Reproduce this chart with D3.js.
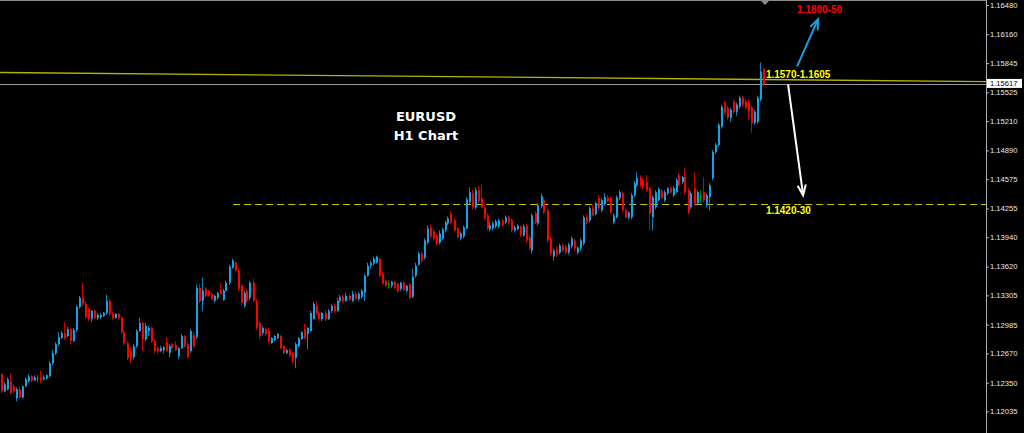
<!DOCTYPE html>
<html><head><meta charset="utf-8">
<script src="https://cdn.jsdelivr.net/npm/d3@7/dist/d3.min.js"></script>
<style>html,body{margin:0;padding:0;background:#000;overflow:hidden}</style>
</head><body><svg id="c" width="1024" height="433"></svg>
<script>
// ---- Data (EURUSD H1 candles) ----
const open = [1.12442,1.12255,1.12277,1.12365,1.12310,1.12178,1.12277,1.12189,1.12310,1.12365,1.12420,1.12376,1.12398,1.12409,1.12387,1.12398,1.12420,1.12563,1.12673,1.12772,1.12838,1.12893,1.12860,1.12937,1.12805,1.12926,1.13179,1.13278,1.13212,1.13157,1.13047,1.13135,1.13058,1.13069,1.13080,1.13113,1.13245,1.13102,1.13058,1.13102,1.13058,1.12904,1.12783,1.12695,1.12629,1.12750,1.12915,1.13003,1.12827,1.12915,1.12948,1.12805,1.12728,1.12695,1.12706,1.12794,1.12673,1.12772,1.12761,1.12640,1.12728,1.12860,1.12772,1.12695,1.12871,1.12849,1.13388,1.13245,1.13377,1.13355,1.13322,1.13245,1.13278,1.13366,1.13256,1.13355,1.13443,1.13608,1.13663,1.13575,1.13410,1.13190,1.13355,1.13278,1.13443,1.13245,1.13003,1.12893,1.12937,1.12915,1.12783,1.12816,1.12838,1.12860,1.12750,1.12673,1.12717,1.12673,1.12618,1.12750,1.12827,1.12937,1.12882,1.12915,1.13047,1.13190,1.13113,1.13047,1.13113,1.13047,1.13135,1.13190,1.13135,1.13245,1.13289,1.13245,1.13300,1.13245,1.13322,1.13267,1.13289,1.13333,1.13520,1.13630,1.13652,1.13663,1.13707,1.13542,1.13465,1.13432,1.13410,1.13454,1.13432,1.13377,1.13443,1.13355,1.13432,1.13289,1.13520,1.13641,1.13762,1.13718,1.13883,1.14048,1.14004,1.13960,1.13883,1.13927,1.14015,1.14092,1.14191,1.14125,1.14037,1.13927,1.13949,1.14037,1.14323,1.14422,1.14268,1.14455,1.14367,1.14268,1.14180,1.14026,1.14037,1.14059,1.14059,1.14125,1.14103,1.14158,1.14125,1.14015,1.14026,1.14059,1.13960,1.14070,1.13938,1.13795,1.14202,1.14092,1.14279,1.14345,1.14235,1.13927,1.13729,1.13806,1.13773,1.13850,1.13839,1.13773,1.13839,1.13905,1.13773,1.13817,1.13872,1.14158,1.14125,1.14257,1.14191,1.14367,1.14235,1.14301,1.14378,1.14367,1.14103,1.14158,1.14367,1.14422,1.14235,1.14158,1.14158,1.14400,1.14510,1.14587,1.14565,1.14543,1.14477,1.14158,1.14268,1.14345,1.14444,1.14345,1.14422,1.14477,1.14400,1.14433,1.14620,1.14543,1.14598,1.14455,1.14268,1.14477,1.14312,1.14389,1.14433,1.14290,1.14378,1.14587,1.14873,1.14950,1.15148,1.15412,1.15357,1.15247,1.15423,1.15313,1.15368,1.15467,1.15423,1.15412,1.15357,1.15192,1.15203,1.15445,1.15775];
const high = [1.12453,1.12354,1.12409,1.12453,1.12332,1.12299,1.12310,1.12321,1.12409,1.12442,1.12431,1.12431,1.12431,1.12486,1.12431,1.12442,1.12585,1.12706,1.12794,1.12904,1.12915,1.13014,1.12959,1.12948,1.12948,1.13201,1.13300,1.13443,1.13245,1.13168,1.13146,1.13146,1.13113,1.13113,1.13124,1.13311,1.13267,1.13124,1.13113,1.13113,1.13080,1.12926,1.12805,1.12728,1.12772,1.12937,1.13058,1.13025,1.13003,1.12970,1.12959,1.12827,1.12750,1.12750,1.12750,1.12849,1.12772,1.12783,1.12805,1.12739,1.12882,1.12871,1.12794,1.12937,1.12904,1.13421,1.13432,1.13498,1.13399,1.13366,1.13333,1.13311,1.13344,1.13443,1.13377,1.13465,1.13641,1.13707,1.13674,1.13597,1.13432,1.13355,1.13377,1.13465,1.13487,1.13267,1.13025,1.12970,1.12959,1.12948,1.12849,1.12871,1.12893,1.12871,1.12761,1.12717,1.12728,1.12684,1.12794,1.12849,1.12915,1.12992,1.12959,1.13135,1.13234,1.13245,1.13135,1.13124,1.13146,1.13157,1.13212,1.13223,1.13278,1.13311,1.13311,1.13333,1.13322,1.13355,1.13344,1.13344,1.13377,1.13542,1.13663,1.13685,1.13729,1.13740,1.13718,1.13564,1.13487,1.13465,1.13465,1.13465,1.13443,1.13454,1.13465,1.13421,1.13443,1.13597,1.13663,1.13784,1.13784,1.13927,1.14070,1.14081,1.14037,1.13982,1.14015,1.14048,1.14125,1.14169,1.14224,1.14147,1.14059,1.14004,1.14070,1.14378,1.14488,1.14455,1.14488,1.14499,1.14521,1.14290,1.14202,1.14103,1.14114,1.14136,1.14147,1.14136,1.14180,1.14180,1.14147,1.14070,1.14081,1.14070,1.14081,1.14092,1.13960,1.14202,1.14224,1.14312,1.14422,1.14367,1.14257,1.13949,1.13817,1.13839,1.13872,1.13872,1.13861,1.13883,1.13949,1.13927,1.13839,1.13927,1.14180,1.14191,1.14279,1.14290,1.14334,1.14400,1.14367,1.14422,1.14400,1.14389,1.14202,1.14400,1.14455,1.14444,1.14257,1.14224,1.14422,1.14554,1.14653,1.14620,1.14587,1.14620,1.14499,1.14400,1.14455,1.14488,1.14466,1.14455,1.14488,1.14499,1.14499,1.14587,1.14642,1.14609,1.14697,1.14477,1.14444,1.14653,1.14455,1.14455,1.14598,1.14422,1.14532,1.14895,1.14972,1.15192,1.15390,1.15434,1.15379,1.15357,1.15445,1.15412,1.15489,1.15489,1.15445,1.15445,1.15379,1.15335,1.15489,1.15852,1.15797];
const low = [1.12233,1.12244,1.12266,1.12222,1.12233,1.12145,1.12167,1.12178,1.12299,1.12354,1.12354,1.12365,1.12354,1.12343,1.12376,1.12387,1.12409,1.12541,1.12651,1.12750,1.12827,1.12816,1.12849,1.12772,1.12794,1.12904,1.13157,1.13190,1.13047,1.13025,1.13014,1.13047,1.13036,1.13047,1.13069,1.13091,1.13080,1.13036,1.13047,1.13036,1.12882,1.12761,1.12596,1.12563,1.12607,1.12728,1.12904,1.12695,1.12805,1.12860,1.12783,1.12673,1.12673,1.12684,1.12673,1.12684,1.12629,1.12717,1.12695,1.12607,1.12717,1.12728,1.12618,1.12673,1.12728,1.12827,1.13223,1.13135,1.13278,1.13289,1.13256,1.13223,1.13256,1.13311,1.13245,1.13344,1.13421,1.13597,1.13553,1.13355,1.13201,1.13168,1.13223,1.13256,1.13234,1.12926,1.12827,1.12871,1.12860,1.12783,1.12772,1.12805,1.12827,1.12717,1.12662,1.12662,1.12629,1.12563,1.12508,1.12739,1.12816,1.12827,1.12717,1.12904,1.13036,1.13091,1.13025,1.13025,1.13025,1.13036,1.13113,1.13113,1.13124,1.13223,1.13223,1.13234,1.13245,1.13234,1.13256,1.13245,1.13267,1.13245,1.13509,1.13597,1.13630,1.13652,1.13498,1.13421,1.13399,1.13377,1.13388,1.13377,1.13333,1.13355,1.13355,1.13333,1.13256,1.13278,1.13498,1.13630,1.13663,1.13696,1.13861,1.13927,1.13905,1.13850,1.13861,1.13905,1.13993,1.14070,1.14081,1.14004,1.13927,1.13905,1.13927,1.14026,1.14301,1.14246,1.14246,1.14312,1.14257,1.14125,1.14015,1.14004,1.14015,1.14037,1.14037,1.14059,1.14081,1.14081,1.13993,1.13993,1.14015,1.13938,1.13949,1.13883,1.13795,1.13762,1.14081,1.14070,1.14257,1.14191,1.13883,1.13729,1.13685,1.13729,1.13751,1.13784,1.13751,1.13751,1.13817,1.13795,1.13751,1.13795,1.13850,1.14081,1.14103,1.14169,1.14180,1.14235,1.14213,1.14279,1.14323,1.14191,1.14081,1.14147,1.14345,1.14213,1.14147,1.14136,1.14136,1.14378,1.14488,1.14488,1.14466,1.14433,1.14015,1.14015,1.14246,1.14334,1.14356,1.14323,1.14400,1.14422,1.14378,1.14422,1.14499,1.14521,1.14411,1.14191,1.14246,1.14290,1.14290,1.14312,1.14323,1.14268,1.14235,1.14565,1.14851,1.14928,1.15126,1.15280,1.15225,1.15203,1.15291,1.15269,1.15346,1.15368,1.15335,1.15225,1.15082,1.15170,1.15181,1.15423,1.15588];
const close = [1.12255,1.12332,1.12387,1.12233,1.12255,1.12277,1.12189,1.12310,1.12387,1.12420,1.12376,1.12409,1.12398,1.12376,1.12409,1.12431,1.12563,1.12673,1.12772,1.12849,1.12893,1.12838,1.12937,1.12805,1.12926,1.13179,1.13278,1.13212,1.13069,1.13047,1.13135,1.13058,1.13091,1.13091,1.13113,1.13245,1.13102,1.13058,1.13102,1.13058,1.12904,1.12783,1.12618,1.12607,1.12750,1.12915,1.13003,1.12827,1.12970,1.12948,1.12805,1.12695,1.12695,1.12728,1.12739,1.12695,1.12750,1.12728,1.12706,1.12728,1.12860,1.12750,1.12629,1.12915,1.12750,1.13388,1.13245,1.13355,1.13300,1.13300,1.13267,1.13300,1.13333,1.13322,1.13355,1.13443,1.13619,1.13685,1.13575,1.13377,1.13223,1.13333,1.13245,1.13443,1.13245,1.12948,1.12860,1.12948,1.12882,1.12805,1.12838,1.12860,1.12882,1.12728,1.12673,1.12706,1.12651,1.12585,1.12772,1.12838,1.12904,1.12838,1.12948,1.13113,1.13212,1.13113,1.13047,1.13113,1.13047,1.13135,1.13190,1.13135,1.13245,1.13289,1.13245,1.13300,1.13256,1.13322,1.13267,1.13322,1.13355,1.13520,1.13630,1.13663,1.13707,1.13729,1.13520,1.13432,1.13410,1.13432,1.13454,1.13388,1.13355,1.13443,1.13366,1.13410,1.13278,1.13509,1.13630,1.13762,1.13685,1.13905,1.14037,1.13949,1.13927,1.13872,1.13982,1.14026,1.14103,1.14147,1.14103,1.14015,1.13938,1.13982,1.14048,1.14356,1.14433,1.14268,1.14455,1.14334,1.14268,1.14147,1.14037,1.14070,1.14092,1.14114,1.14125,1.14070,1.14158,1.14103,1.14015,1.14048,1.14070,1.13971,1.14059,1.13905,1.13817,1.14180,1.14103,1.14290,1.14389,1.14213,1.13905,1.13762,1.13795,1.13751,1.13850,1.13795,1.13773,1.13861,1.13927,1.13817,1.13828,1.13905,1.14158,1.14103,1.14257,1.14180,1.14312,1.14257,1.14345,1.14378,1.14334,1.14213,1.14180,1.14378,1.14433,1.14235,1.14158,1.14213,1.14400,1.14532,1.14587,1.14510,1.14488,1.14455,1.14202,1.14378,1.14433,1.14466,1.14367,1.14433,1.14477,1.14433,1.14477,1.14565,1.14510,1.14598,1.14433,1.14213,1.14422,1.14312,1.14433,1.14389,1.14345,1.14400,1.14510,1.14873,1.14950,1.15170,1.15368,1.15302,1.15247,1.15335,1.15313,1.15390,1.15467,1.15390,1.15357,1.15313,1.15192,1.15313,1.15467,1.15753,1.15610];

const tickValues = [1.16480,1.16160,1.15845,1.15525,1.15210,1.14890,1.14575,1.14255,1.13940,1.13620,1.13305,1.12985,1.12670,1.12350,1.12035];
const currentPrice = 1.15617;
const trendLine = [[-0.5, 1.15742], [328.2, 1.15643]];   // [bar index, price]
const supportLevel = 1.14301, supportStart = 77.2;
const zoneLabels = [
  {text: "1.1570-1.1605", i: 254.8, p: 1.15687, color: "#ffff00"},
  {text: "1.1800-50",     i: 265.2, p: 1.16391, color: "#ff0000"},
  {text: "1.1420-30",     i: 254.8, p: 1.14191, color: "#ffff00"}
];
const arrows = [
  {from: [265.2, 1.15808], to: [272.2, 1.16325], color: "#1b9ee0"},
  {from: [262.2, 1.15610], to: [267.2, 1.14400], color: "#ffffff"}
];
const title = ["EURUSD", "H1 Chart"];

// ---- Drawing ----
const W = 1024, H = 433, axisX = 986;
const svg = d3.select("#c");
svg.append("rect").attr("width", W).attr("height", H).attr("fill", "#000");

const x = d3.scaleLinear().domain([0, open.length - 1]).range([1.5, 763.5]);
const y = d3.scaleLinear().domain([1.12035, 1.16480]).range([411.5, 5]);

// top border & axis line
svg.append("line").attr("x1", 0).attr("x2", axisX).attr("y1", 0.5).attr("y2", 0.5).attr("stroke", "#8a8a8a");
svg.append("line").attr("x1", axisX + 0.5).attr("x2", axisX + 0.5).attr("y1", 0).attr("y2", H).attr("stroke", "#b0b0b0");

// shift marker triangle
const tx = Math.round(x(open.length - 1)) + 1;
svg.append("path").attr("d", `M${tx-4},1 L${tx+4},1 L${tx},5 Z`).attr("fill", "#8a8a8a");

// trend line (yellow)
svg.append("path").datum(trendLine)
  .attr("d", d3.line().x(d => x(d[0])).y(d => y(d[1])))
  .attr("stroke", "#b4b400").attr("stroke-width", 1.3).attr("fill", "none");

// bid line
svg.append("line").attr("x1", 0).attr("x2", axisX).attr("y1", Math.round(y(currentPrice)) + 0.5).attr("y2", Math.round(y(currentPrice)) + 0.5)
  .attr("stroke", "#9a9a9a").attr("stroke-width", 1);

// support dashed
svg.append("line").attr("x1", x(supportStart)).attr("x2", axisX)
  .attr("y1", Math.round(y(supportLevel)) + 0.5).attr("y2", Math.round(y(supportLevel)) + 0.5)
  .attr("stroke", "#c8c800").attr("stroke-width", 1.2).attr("stroke-dasharray", "7,4");

// candles
const up = "#17a2e6", dn = "#ff0000", dj = "#00b400";
const upW = "#1283bb", dnW = "#c80000", djW = "#008c00";
const idx = d3.range(open.length);
const g = svg.append("g");
g.selectAll("rect.w").data(idx).join("rect").attr("class", "w")
  .attr("x", i => Math.round(x(i)) - 1).attr("width", 1)
  .attr("y", i => y(high[i])).attr("height", i => Math.max(1, y(low[i]) - y(high[i])))
  .attr("fill", i => close[i] > open[i] ? upW : close[i] < open[i] ? dnW : djW);
g.selectAll("rect.b").data(idx).join("rect").attr("class", "b")
  .attr("x", i => Math.round(x(i)) - 1).attr("width", 2)
  .attr("y", i => y(Math.max(open[i], close[i])))
  .attr("height", i => Math.max(1, Math.abs(y(open[i]) - y(close[i]))))
  .attr("fill", i => close[i] > open[i] ? up : close[i] < open[i] ? dn : dj);

// y axis
const ax = d3.axisRight(y).tickValues(tickValues).tickSize(3).tickSizeOuter(0).tickPadding(1)
  .tickFormat(d3.format(".5f"));
const ag = svg.append("g").attr("transform", `translate(${axisX},0)`).call(ax);
ag.select(".domain").remove();
ag.selectAll("line").attr("stroke", "#b0b0b0");
ag.selectAll("text").attr("fill", "#e8e8e8").style("font-family", "'Liberation Sans', Arial, sans-serif").style("font-size", "7.6px");

// current price tag
const cy = y(currentPrice);
svg.append("rect").attr("x", axisX + 1).attr("y", cy - 5).attr("width", 35).attr("height", 9).attr("fill", "#fff");
svg.append("text").attr("x", axisX + 4).attr("y", cy).attr("dy", "0.33em").text(d3.format(".5f")(currentPrice))
  .attr("fill", "#000").style("font-family", "'Liberation Sans', Arial, sans-serif").style("font-size", "7.6px");

// zone labels
svg.selectAll("text.zl").data(zoneLabels).join("text").attr("class", "zl")
  .attr("x", d => x(d.i)).attr("y", d => y(d.p)).text(d => d.text)
  .attr("fill", d => d.color).style("font-family", "'Liberation Sans', Arial, sans-serif")
  .style("font-weight", "bold").style("font-size", "10px");

// arrows
arrows.forEach(a => {
  const x1 = x(a.from[0]), y1 = y(a.from[1]), x2 = x(a.to[0]), y2 = y(a.to[1]);
  svg.append("line").attr("x1", x1).attr("y1", y1).attr("x2", x2).attr("y2", y2)
    .attr("stroke", a.color).attr("stroke-width", 2);
  const ang = Math.atan2(y1 - y2, x1 - x2), L = 11, s = 0.38;
  const p1 = [x2 + L * Math.cos(ang + s), y2 + L * Math.sin(ang + s)];
  const p2 = [x2 + L * Math.cos(ang - s), y2 + L * Math.sin(ang - s)];
  svg.append("path").attr("d", `M${p1[0]},${p1[1]} L${x2},${y2} L${p2[0]},${p2[1]}`)
    .attr("stroke", a.color).attr("stroke-width", 2).attr("fill", "none");
});

// title
svg.selectAll("text.tt").data(title).join("text").attr("class", "tt")
  .attr("x", 426).attr("y", (d, k) => 120.5 + k * 19).attr("text-anchor", "middle").text(d => d)
  .attr("fill", "#fff").style("font-family", "'DejaVu Sans', sans-serif").style("font-weight", "bold").style("font-size", "13px");
</script>
</body></html>
